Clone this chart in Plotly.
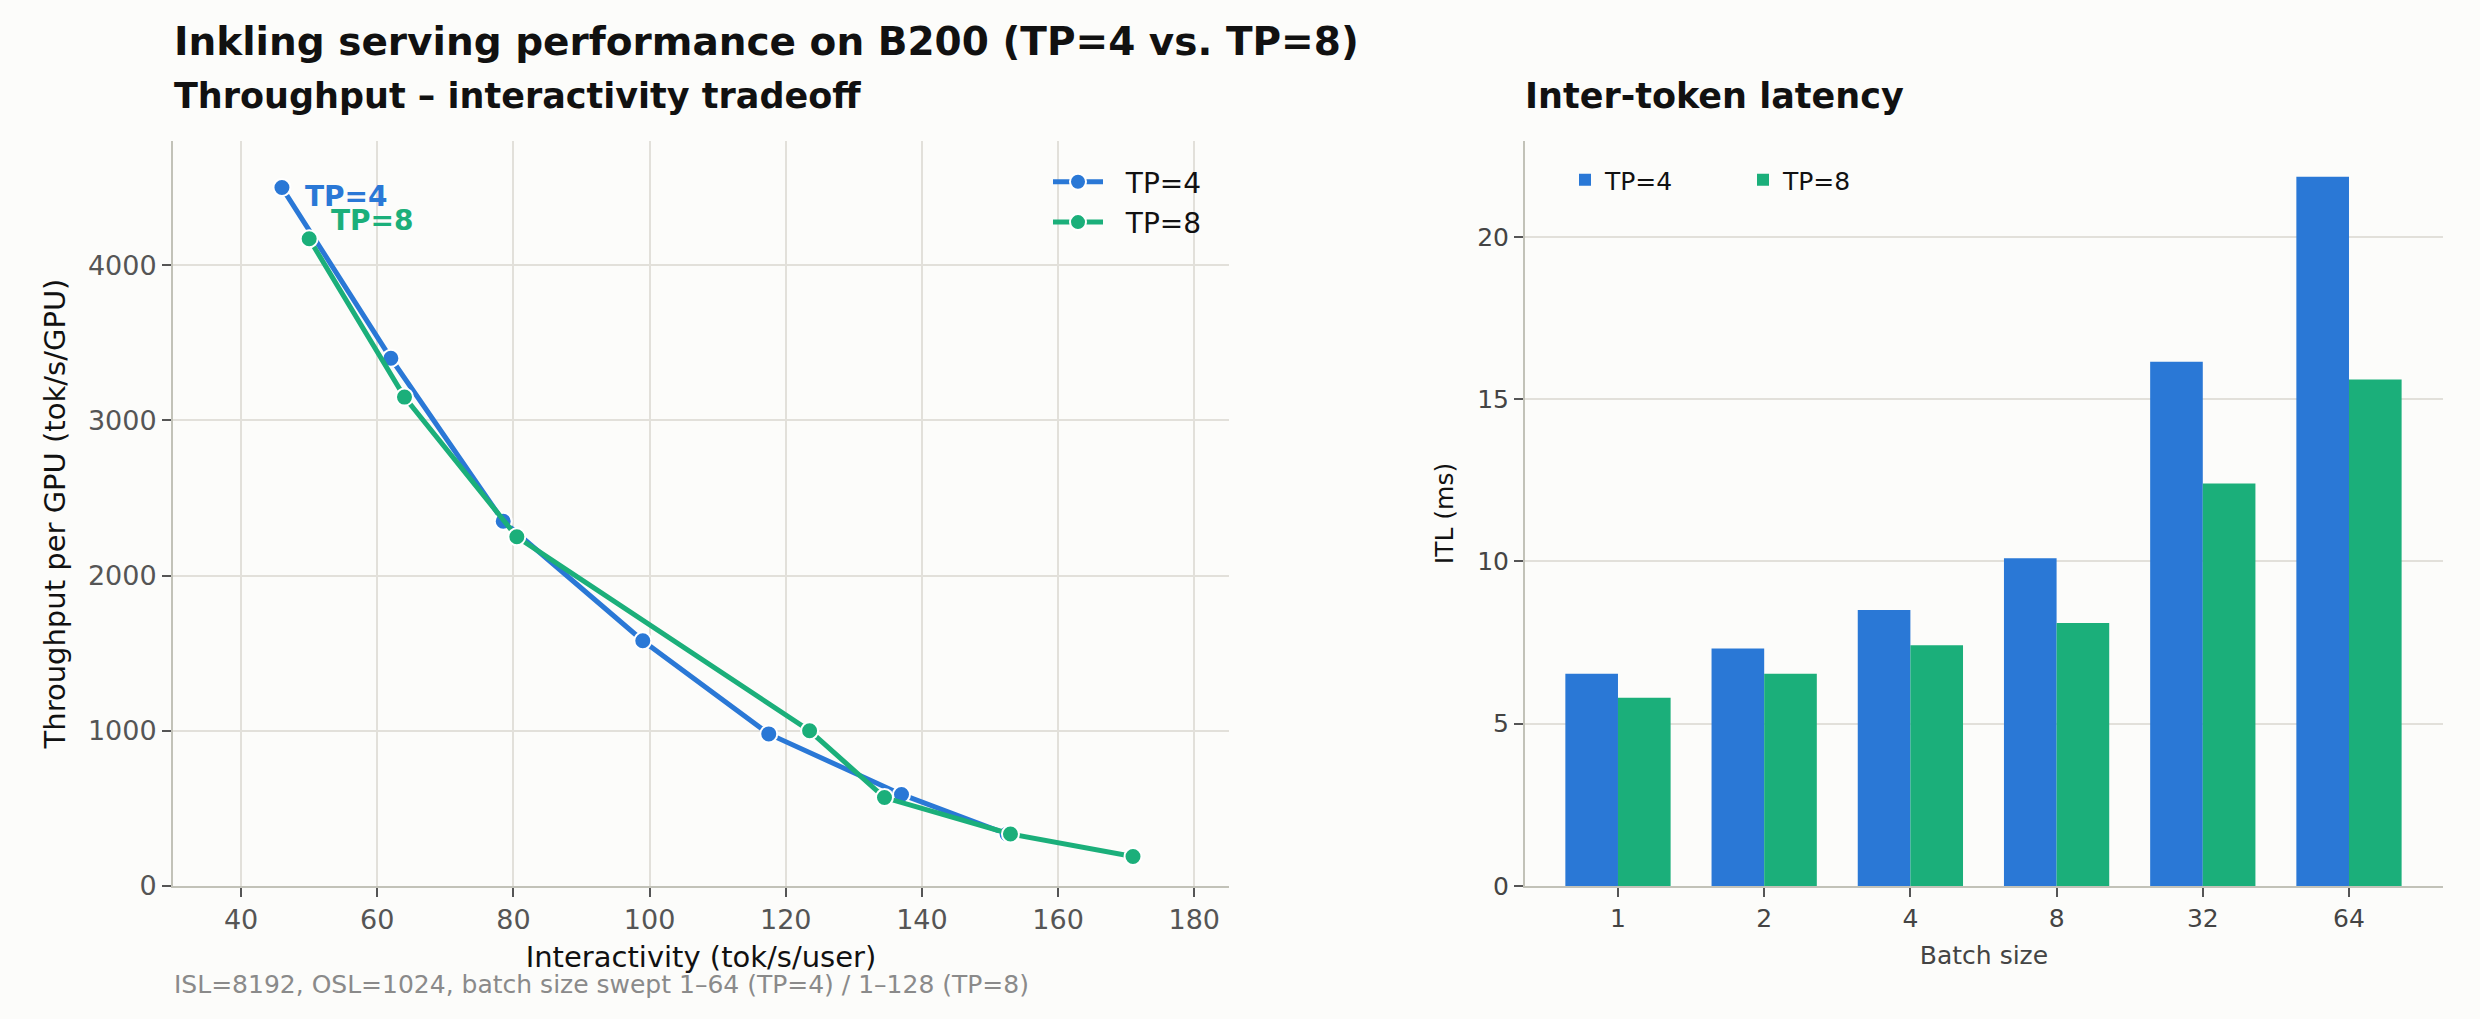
import plotly.graph_objects as go

# ---- data ----
tp4_interactivity = [46, 62, 78.5, 99, 117.5, 137, 152.5]
tp4_throughput = [4500, 3400, 2350, 1580, 980, 590, 335]
tp8_interactivity = [50, 64, 80.5, 123.5, 134.5, 153, 171]
tp8_throughput = [4170, 3150, 2250, 1000, 570, 335, 190]

batch_labels = ["1", "2", "4", "8", "32", "64"]
itl_tp4 = [6.54, 7.32, 8.5, 10.1, 16.15, 21.85]
itl_tp8 = [5.8, 6.54, 7.42, 8.1, 12.4, 15.6]

series_names = ["TP=4", "TP=8"]

BLUE = "#2A78D6"
GREEN = "#1BAF7A"
BG = "#FCFCFA"
GRID = "#E2E0DA"
SPINE = "#C2C2B8"
FONT = "DejaVu Sans"

W, H = 2480, 1019
PAD = "\u00a0\u00a0"  # gap between legend line symbol and its text


def px(x):
    return x / W


def py(y):
    return 1 - y / H


fig = go.Figure()

fig.add_trace(go.Scatter(
    x=tp4_interactivity, y=tp4_throughput, name=PAD + series_names[0],
    mode="lines+markers", line=dict(color=BLUE, width=5),
    marker=dict(size=17, color=BLUE, line=dict(color="white", width=2)),
    xaxis="x", yaxis="y", legend="legend", legendgroup="a"))
fig.add_trace(go.Scatter(
    x=tp8_interactivity, y=tp8_throughput, name=PAD + series_names[1],
    mode="lines+markers", line=dict(color=GREEN, width=5),
    marker=dict(size=17, color=GREEN, line=dict(color="white", width=2)),
    xaxis="x", yaxis="y", legend="legend", legendgroup="b"))

fig.add_trace(go.Bar(
    x=batch_labels, y=itl_tp4, name=series_names[0], marker=dict(color=BLUE, line=dict(width=0)),
    xaxis="x2", yaxis="y2", legend="legend2"))
fig.add_trace(go.Bar(
    x=batch_labels, y=itl_tp8, name=series_names[1], marker=dict(color=GREEN, line=dict(width=0)),
    xaxis="x2", yaxis="y2", legend="legend2"))

ydom = [py(886), py(141)]

annotations = [
    dict(text="<b>Inkling serving performance on B200 (TP=4 vs. TP=8)</b>", xref="paper", yref="paper",
         x=px(172), y=py(41), xanchor="left", yanchor="middle", showarrow=False,
         font=dict(family=FONT, size=39, color="#111111")),
    dict(text="<b>Throughput – interactivity tradeoff</b>", xref="paper", yref="paper",
         x=px(172), y=py(96), xanchor="left", yanchor="middle", showarrow=False,
         font=dict(family=FONT, size=35, color="#111111")),
    dict(text="<b>Inter-token latency</b>", xref="paper", yref="paper",
         x=px(1523), y=py(96), xanchor="left", yanchor="middle", showarrow=False,
         font=dict(family=FONT, size=35, color="#111111")),
    dict(text="ISL=8192, OSL=1024, batch size swept 1–64 (TP=4) / 1–128 (TP=8)", xref="paper", yref="paper",
         x=px(172), y=py(984), xanchor="left", yanchor="middle", showarrow=False,
         font=dict(family=FONT, size=25, color="#8A8A8A")),
    dict(text="<b>TP=4</b>", xref="x", yref="y", x=tp4_interactivity[0], y=tp4_throughput[0],
         xanchor="left", yanchor="middle", xshift=21, yshift=-9, showarrow=False,
         font=dict(family=FONT, size=28, color=BLUE)),
    dict(text="<b>TP=8</b>", xref="x", yref="y", x=tp8_interactivity[0], y=tp8_throughput[0],
         xanchor="left", yanchor="middle", xshift=20, yshift=18, showarrow=False,
         font=dict(family=FONT, size=28, color=GREEN)),
]

fig.update_layout(
    width=W, height=H,
    margin=dict(l=0, r=0, t=0, b=0),
    paper_bgcolor=BG, plot_bgcolor=BG,
    font=dict(family=FONT, color="#222222"),
    barmode="group", bargap=0.28, bargroupgap=0,
    annotations=annotations,
    xaxis=dict(domain=[px(173), px(1229)], range=[30, 185.1], anchor="y", automargin=False,
               tickvals=[40, 60, 80, 100, 120, 140, 160, 180],
               showgrid=True, gridcolor=GRID, gridwidth=1.5, zeroline=False,
               showline=True, linecolor=SPINE, linewidth=2,
               ticks="outside", ticklen=9, tickwidth=2, tickcolor="#555555",
               tickfont=dict(family=FONT, size=27, color="#555555"),
               title=dict(text="Interactivity (tok/s/user)", standoff=12,
                          font=dict(family=FONT, size=29, color="#111111"))),
    yaxis=dict(domain=ydom, range=[0, 4800], anchor="x", automargin=False,
               tickvals=[0, 1000, 2000, 3000, 4000],
               showgrid=True, gridcolor=GRID, gridwidth=1.5, zeroline=False,
               showline=True, linecolor=SPINE, linewidth=2,
               ticks="outside", ticklen=9, tickwidth=2, tickcolor="#555555",
               tickfont=dict(family=FONT, size=27, color="#555555"),
               title=dict(text="Throughput per GPU (tok/s/GPU)", standoff=14,
                          font=dict(family=FONT, size=29, color="#111111"))),
    xaxis2=dict(domain=[px(1525), px(2443)], type="category", range=[-0.636, 5.643], anchor="y2",
                automargin=False, showgrid=False, zeroline=False,
                showline=True, linecolor=SPINE, linewidth=2,
                ticks="outside", ticklen=9, tickwidth=2, tickcolor="#555555",
                tickfont=dict(family=FONT, size=25, color="#444444"),
                title=dict(text="Batch size", standoff=14,
                           font=dict(family=FONT, size=25, color="#444444"))),
    yaxis2=dict(domain=ydom, range=[0, 22.95], anchor="x2", automargin=False,
                tickvals=[0, 5, 10, 15, 20],
                showgrid=True, gridcolor=GRID, gridwidth=1.5, zeroline=False,
                showline=True, linecolor=SPINE, linewidth=2,
                ticks="outside", ticklen=9, tickwidth=2, tickcolor="#555555",
                tickfont=dict(family=FONT, size=25, color="#444444"),
                title=dict(text="ITL (ms)", standoff=16,
                           font=dict(family=FONT, size=25, color="#111111"))),
    legend=dict(x=px(1048), y=py(157), xanchor="left", yanchor="top",
                bgcolor="rgba(0,0,0,0)", borderwidth=0, tracegroupgap=1, itemwidth=50,
                font=dict(family=FONT, size=28, color="#111111")),
    legend2=dict(x=px(1565), y=py(157), xanchor="left", yanchor="top", orientation="h",
                 bgcolor="rgba(0,0,0,0)", borderwidth=0,
                 entrywidth=133, entrywidthmode="pixels",
                 font=dict(family=FONT, size=25, color="#111111")),
    showlegend=True,
)

fig.write_html("out.html")
